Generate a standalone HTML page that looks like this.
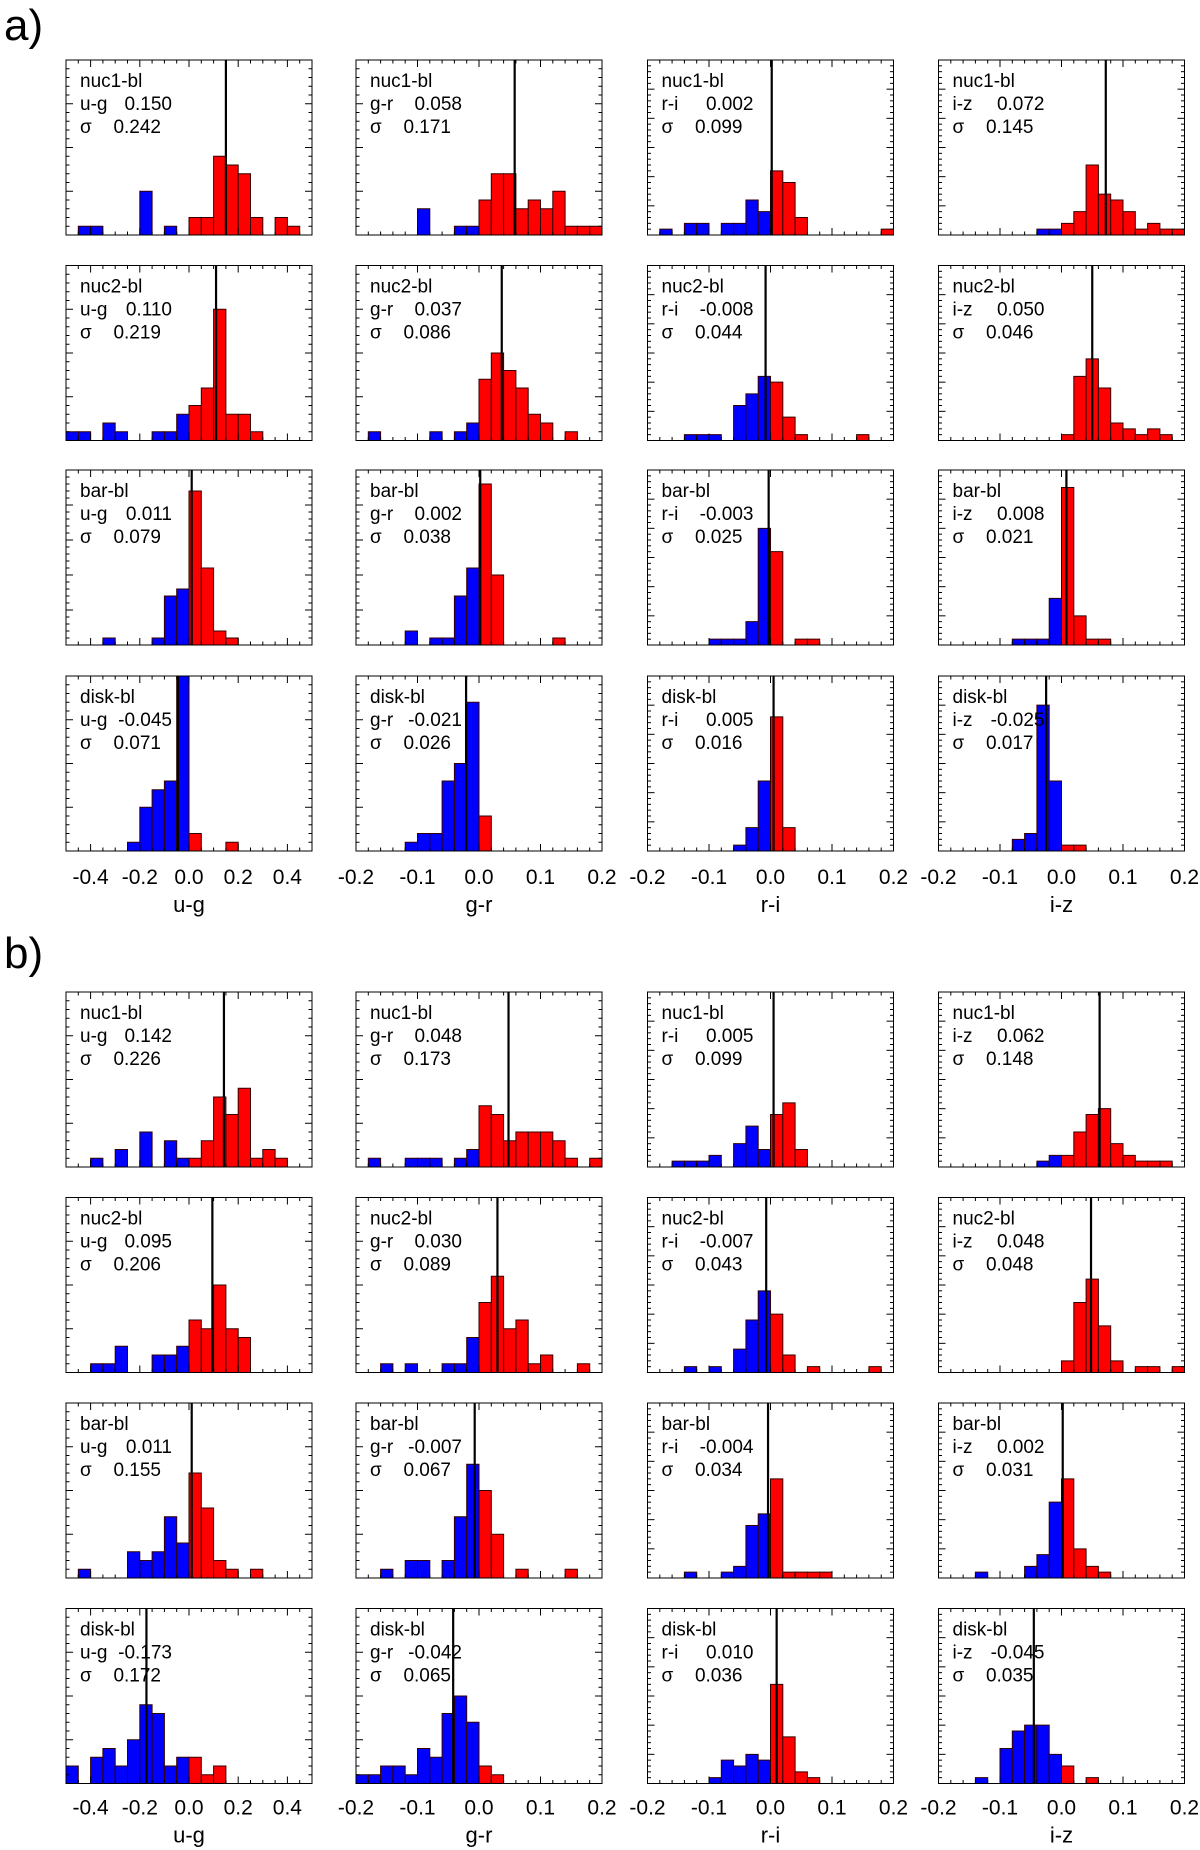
<!DOCTYPE html>
<html><head><meta charset="utf-8"><style>
html,body{margin:0;padding:0;background:#fff;}
svg{display:block;font-family:"Liberation Sans",sans-serif;}
</style></head><body>
<svg id="fig" width="1200" height="1850" viewBox="0 0 1200 1850" xmlns="http://www.w3.org/2000/svg">
<text x="4" y="40" font-size="44">a)</text>
<text x="4" y="968" font-size="44">b)</text>
</svg>
<script>
const colors = ["u-g","g-r","r-i","i-z"];
const regions = ["nuc1-bl","nuc2-bl","bar-bl","disk-bl"];
const ugTicks = ["-0.4","-0.2","0.0","0.2","0.4"];
const otherTicks = ["-0.2","-0.1","0.0","0.1","0.2"];
const ugTickVals = [-0.4,-0.2,0,0.2,0.4];
const otherTickVals = [-0.2,-0.1,0,0.1,0.2];
const countsA1 = [
 [0,1,1,0,0,0,5,0,1,0,2,2,9,8,7,2,0,2,1,0],
 [0,0,0,0,0,3,0,0,1,1,4,7,7,3,4,3,5,1,1,1],
 [0,1,0,2,2,0,2,2,6,4,11,9,3,0,0,0,0,0,0,1],
 [0,0,0,0,0,0,0,0,1,1,2,4,12,7,6,4,1,2,1,1]];
const countsA2 = [
 [1,1,0,2,1,0,0,1,1,3,4,6,15,3,3,1,0,0,0,0],
 [0,1,0,0,0,0,1,0,1,2,7,10,8,6,3,2,0,1,0,0],
 [0,0,0,1,1,1,0,6,8,11,10,4,1,0,0,0,0,1,0,0],
 [0,0,0,0,0,0,0,0,0,0,1,11,14,9,3,2,1,2,1,0]];
const countsA3 = [
 [0,0,0,1,0,0,0,1,7,8,22,11,2,1,0,0,0,0,0,0],
 [0,0,0,0,2,0,1,1,7,11,23,10,0,0,0,0,1,0,0,0],
 [0,0,0,0,0,1,1,1,4,20,16,0,1,1,0,0,0,0,0,0],
 [0,0,0,0,0,0,1,1,1,8,27,5,1,1,0,0,0,0,0,0]];
const countsA4 = [
 [0,0,0,0,0,1,5,7,8,20,2,0,0,1,0,0,0,0,0,0],
 [0,0,0,0,1,2,2,8,10,17,4,0,0,0,0,0,0,0,0,0],
 [0,0,0,0,0,0,0,1,4,12,23,4,0,0,0,0,0,0,0,0],
 [0,0,0,0,0,0,2,3,25,12,1,1,0,0,0,0,0,0,0,0]];
const countsB1 = [
 [0,0,1,0,2,0,4,0,3,1,1,3,8,6,9,1,2,1,0,0],
 [0,1,0,0,1,1,1,0,1,2,7,6,3,4,4,4,3,1,0,1],
 [0,0,1,1,1,2,0,4,7,3,9,11,3,0,0,0,0,0,0,0],
 [0,0,0,0,0,0,0,0,1,2,2,6,9,10,4,2,1,1,1,0]];
const countsB2 = [
 [0,0,1,1,3,0,0,2,2,3,6,5,10,5,4,0,0,0,0,0],
 [0,0,1,0,1,0,0,1,1,4,8,11,5,6,1,2,0,0,1,0],
 [0,0,0,1,0,1,0,4,9,14,10,3,0,1,0,0,0,0,1,0],
 [0,0,0,0,0,0,0,0,0,0,2,12,16,8,2,0,1,1,0,1]];
const countsB3 = [
 [0,1,0,0,0,3,2,3,7,4,12,8,2,1,0,1,0,0,0,0],
 [0,0,1,0,2,2,0,2,7,13,10,5,0,1,0,0,0,1,0,0],
 [0,0,0,1,0,0,1,2,9,11,17,1,1,1,1,0,0,0,0,0],
 [0,0,0,1,0,0,0,2,4,13,17,5,2,1,0,0,0,0,0,0]];
const countsB4 = [
 [2,0,3,4,2,5,9,8,2,3,3,1,2,0,0,0,0,0,0,0],
 [1,1,2,2,1,4,3,8,10,7,2,1,0,0,0,0,0,0,0,0],
 [0,0,0,0,0,1,4,3,5,4,17,8,2,1,0,0,0,0,0,0],
 [0,0,0,1,0,6,9,10,10,5,3,0,1,0,0,0,0,0,0,0]];
const meansA = [[0.150,0.058,0.002,0.072],[0.110,0.037,-0.008,0.050],[0.011,0.002,-0.003,0.008],[-0.045,-0.021,0.005,-0.025]];
const sigmasA = [[0.242,0.171,0.099,0.145],[0.219,0.086,0.044,0.046],[0.079,0.038,0.025,0.021],[0.071,0.026,0.016,0.017]];
const meansB = [[0.142,0.048,0.005,0.062],[0.095,0.030,-0.007,0.048],[0.011,-0.007,-0.004,0.002],[-0.173,-0.042,0.010,-0.045]];
const sigmasB = [[0.226,0.173,0.099,0.148],[0.206,0.089,0.043,0.048],[0.155,0.067,0.034,0.031],[0.172,0.065,0.036,0.035]];
const ymaxA = [[20,20,30,30],[20,20,30,30],[25,25,30,30],[20,20,30,30]];
const ymaxB = [[20,20,30,30],[20,20,30,30],[20,20,30,30],[20,20,30,30]];

const NS = "http://www.w3.org/2000/svg";
const svg = document.getElementById('fig');
const colLeft = [66,356,647.5,938.5];
const PW = 246, PH = 175;
const topsA = [60,265.5,470,676];
const topsB = [992,1197.5,1403,1608.5];
function mk(tag, attrs, parent){const e=document.createElementNS(NS,tag);for(const k in attrs)e.setAttribute(k,attrs[k]);(parent||svg).appendChild(e);return e;}
function fmt(v){return v.toFixed(3);}

function drawPanel(sec, r, c, top, counts, mean, sigma, ymax, showAxis, labelDy){
  const g = mk('g',{});
  
  
  const left = colLeft[c];
  const isUG = c===0;
  const xmin = isUG?-0.5:-0.2, xmax = isUG?0.5:0.2;
  const bw = (xmax-xmin)/counts.length;
  const X = v => left + (v-xmin)/(xmax-xmin)*PW;
  const Y = n => top + PH - n/ymax*PH;
  counts.forEach((n,i)=>{
    if(n<=0) return;
    const x0 = X(xmin+i*bw), x1 = X(xmin+(i+1)*bw);
    const center = xmin+(i+0.5)*bw;
    const b = mk('rect',{x:x0,y:Y(n),width:x1-x0,height:Y(0)-Y(n),fill:center<0?'#0000ff':'#ff0000'},g);
    
    
    mk('path',{d:'M'+x0+' '+Y(0)+'V'+Y(n)+'H'+x1+'V'+Y(0),fill:'none',stroke:'#300',"stroke-width":1},g);
  });
  const fr = mk('rect',{x:left,y:top,width:PW,height:PH,fill:'none',stroke:'#000',"stroke-width":1},g);
  
  
  const major = isUG?0.2:0.1, minorStep = isUG?0.05:0.02;
  for(let v=xmin; v<=xmax+1e-9; v+=minorStep){
    const isMaj = Math.abs(v/major - Math.round(v/major))<1e-6;
    const len = isMaj?7:3.5, x=X(v);
    mk('line',{x1:x,x2:x,y1:top+PH,y2:top+PH-len,stroke:'#000',"stroke-width":1},g);
    mk('line',{x1:x,x2:x,y1:top,y2:top+len,stroke:'#000',"stroke-width":1},g);
  }
  for(let n=0;n<=ymax;n++){
    const isMaj = n%5===0; const len=isMaj?7:3.5; const y=Y(n);
    mk('line',{x1:left,x2:left+len,y1:y,y2:y,stroke:'#000',"stroke-width":1},g);
    mk('line',{x1:left+PW,x2:left+PW-len,y1:y,y2:y,stroke:'#000',"stroke-width":1},g);
  }
  const ml = mk('line',{x1:X(mean),x2:X(mean),y1:top,y2:top+PH,stroke:'#000',"stroke-width":2.2},g);
  
  
  const fs = 19;
  const t1 = mk('text',{x:left+14,y:top+27,"font-size":fs},g); t1.textContent = regions[r];
  
  
  const t2 = mk('text',{x:left+14,y:top+50,"font-size":fs},g); t2.textContent = colors[c];
  
  
  const t3 = mk('text',{x:left+106,y:top+50,"font-size":fs,"text-anchor":"end"},g); t3.textContent = fmt(mean);
  
  
  const t4 = mk('text',{x:left+14,y:top+73,"font-size":fs},g); t4.textContent = 'σ';
  
  
  const t5 = mk('text',{x:left+95,y:top+73,"font-size":fs,"text-anchor":"end"},g); t5.textContent = fmt(sigma);
  
  
  if(showAxis){
    const labs = isUG?ugTicks:otherTicks, vals = isUG?ugTickVals:otherTickVals;
    labs.forEach((l,i)=>{
      const tl = mk('text',{x:X(vals[i]),y:top+PH+30+labelDy,"font-size":21,"text-anchor":"middle"},g);
      tl.textContent = l;
      
      
    });
    const at = mk('text',{x:left+PW/2,y:top+PH+58+labelDy,"font-size":22,"text-anchor":"middle"},g);
    at.textContent = colors[c];
    
    
  }
}
const secA = [countsA1,countsA2,countsA3,countsA4];
const secB = [countsB1,countsB2,countsB3,countsB4];
for(let r=0;r<4;r++)for(let c=0;c<4;c++){
  drawPanel('a',r,c,topsA[r],secA[r][c],meansA[r][c],sigmasA[r][c],ymaxA[r][c],r===3,3);
  drawPanel('b',r,c,topsB[r],secB[r][c],meansB[r][c],sigmasB[r][c],ymaxB[r][c],r===3,1);
}
</script>
</body></html>
